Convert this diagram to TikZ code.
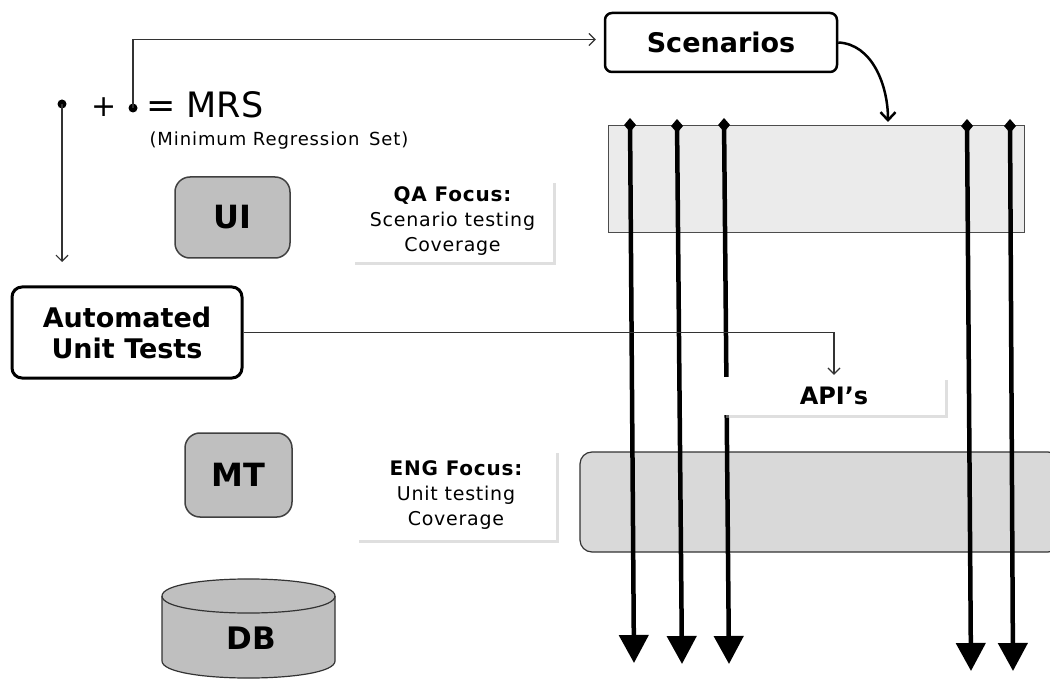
\documentclass[tikz,border=0pt]{standalone}
\usepackage{fontspec}
\setmainfont{DejaVu Sans}
\usetikzlibrary{arrows.meta,shadows}
\tikzset{
  rbox/.style={draw=black, rounded corners=7pt, line width=2.5pt, fill=white, align=center, inner sep=0pt,
    font=\bfseries\fontsize{27}{31}\selectfont},
  layerbox/.style={draw=black!75, fill=black!25, rounded corners=15pt, line width=1.5pt, inner sep=0pt,
    font=\bfseries\fontsize{32}{32}\selectfont},
  focus/.style={fill=white, inner sep=0pt, align=center,
    drop shadow={shadow xshift=3pt, shadow yshift=-3pt, fill=black!25},
    font=\fontsize{19}{25}\selectfont\addfontfeature{LetterSpace=4}},
  thinarrow/.style={draw=black!80, line width=1.2pt, -{Straight Barb[length=6pt,width=12pt]}},
  bigarrow/.style={line width=4.5pt, {Diamond[length=14pt,width=12pt]}-{Triangle[length=28pt,width=29pt]}},
  dot/.style={circle, fill=black, inner sep=0pt, minimum size=9pt},
}
\begin{document}
\begin{tikzpicture}[x=1pt,y=-1pt]
\useasboundingbox (0,0) rectangle (1050,679);

% layer rectangles
\node[draw=black!70, fill=black!8, line width=1pt, minimum width=416pt, minimum height=107pt, inner sep=0pt] (top) at (816,179.5) {};
\node[draw=black!80, fill=black!15, rounded corners=12pt, line width=1.2pt, minimum width=480pt, minimum height=100pt, inner sep=0pt] (mid) at (820,502) {};

% boxes
\node[rbox, minimum width=232pt, minimum height=59pt] (scen) at (721,42.5) {Scenarios};
\node[rbox, line width=3pt, rounded corners=10pt, minimum width=230pt, minimum height=91pt] (aut) at (127,332.5) {Automated\\Unit Tests};
\node[layerbox, minimum width=115pt, minimum height=81pt] (ui) at (232.5,217.5) {UI};
\node[layerbox, minimum width=107pt, minimum height=84pt] (mt) at (238.5,475) {MT};

\node[focus, minimum width=201pt, minimum height=82pt] (qa) at (452.5,221) {{\bfseries\fontsize{20}{25}\selectfont QA Focus:}\\Scenario testing\\Coverage};
\node[focus, minimum width=200pt, minimum height=90pt] (eng) at (456,495) {{\bfseries\fontsize{20}{25}\selectfont ENG Focus:}\\Unit testing\\Coverage};

% DB cylinder
\filldraw[draw=black!80, fill=black!25, line width=1.2pt]
  (162,596) -- (162,661) .. controls (162,683.7) and (335,683.7) .. (335,661) -- (335,596)
  .. controls (335,573.3) and (162,573.3) .. (162,596) -- cycle;
\draw[black!80, line width=1.2pt] (162,596) .. controls (162,618.7) and (335,618.7) .. (335,596);
\node[font=\bfseries\fontsize{31}{31}\selectfont, inner sep=0pt] (db) at (251,638) {DB};

% MRS legend
\node[dot] (d1) at (62,104) {};
\node[dot] (d2) at (133,108) {};
\node[font=\fontsize{30}{30}\selectfont, inner sep=0pt] (plus) at (104,107) {+};
\node[font=\fontsize{35}{35}\selectfont, inner sep=0pt, anchor=west] (mrs) at (146,105) {= MRS};
\node[font=\fontsize{18}{18}\selectfont\addfontfeature{LetterSpace=5}, inner sep=0pt] (mrsfull) at (279,141) {(Minimum Regression\, Set)};

\coordinate (d1end) at (62,262);
\draw[thinarrow] (d1.center) -- (d1end);
\draw[thinarrow, shorten >=8pt] (d2.center) |- ([yshift=3pt]scen.west);

% curved arrow
\coordinate (toptarget) at (888,122);
\draw[line width=2.5pt, -{Straight Barb[length=8pt,width=15pt]}] (scen.east) .. controls (872,44) and (888,85) .. (toptarget);

% vertical scenario arrows
\coordinate (s1) at (630,118); \coordinate (e1) at (634,663);
\coordinate (s2) at (677,119); \coordinate (e2) at (682,664);
\coordinate (s3) at (724,118); \coordinate (e3) at (729,664);
\coordinate (s4) at (967,119); \coordinate (e4) at (971,671);
\coordinate (s5) at (1010,119); \coordinate (e5) at (1013,671);
\foreach \i in {1,...,5} {\draw[bigarrow] (s\i) -- (e\i);}

% API box on top
\node[focus, font=\bfseries\fontsize{24}{24}\selectfont, minimum width=222pt, minimum height=38pt] (api) at (834,396) {API’s};
\draw[thinarrow, shorten >=2pt] (aut.east) -| (api.north);
\end{tikzpicture}
\end{document}
